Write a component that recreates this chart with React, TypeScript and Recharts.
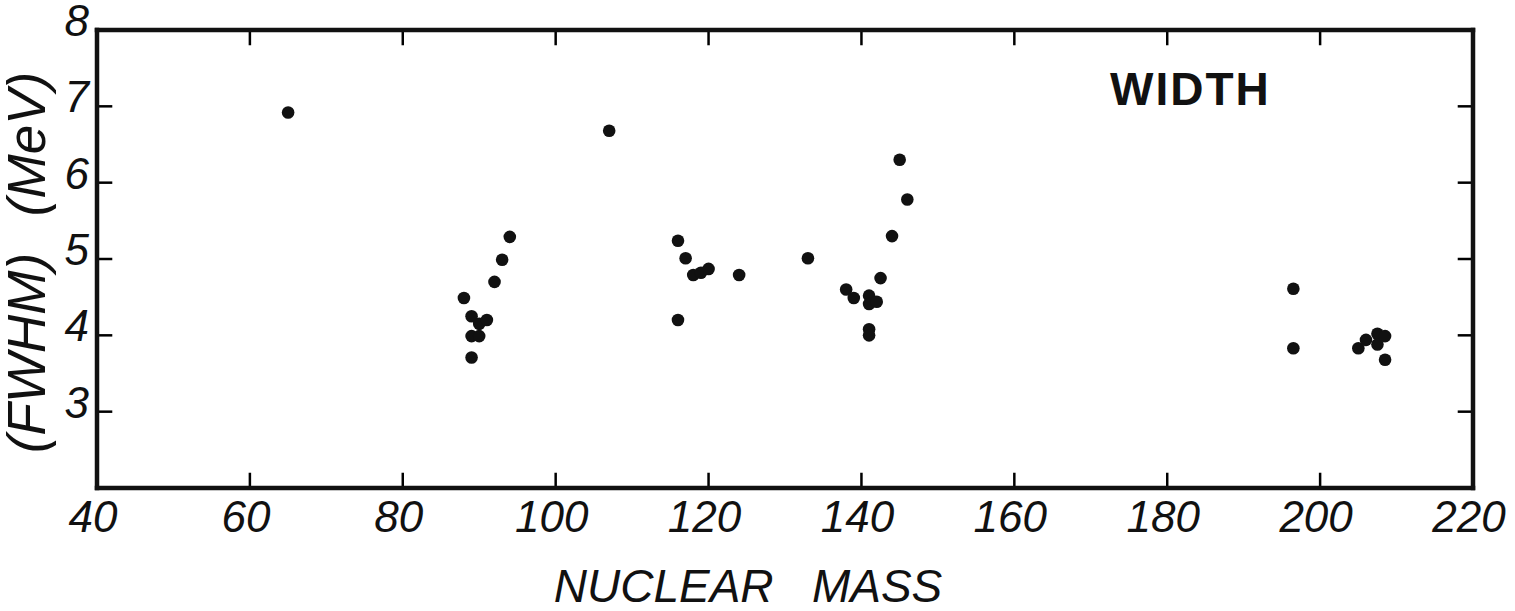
import { Label, ReferenceLine, Scatter, ScatterChart, XAxis, YAxis } from 'recharts';

// Nuclear mass (A) and resonance width FWHM in MeV.
const MASS = [
  65, 107,
  88, 89, 89, 89, 90, 90, 91, 92, 93, 94,
  116, 116, 117, 118, 119, 120, 124, 133,
  138, 139, 141, 141, 141, 141, 142, 142.5, 144, 145, 146,
  196.5, 196.5, 205, 206, 207.5, 207.5, 208.5, 208.5,
];
const WIDTH = [
  6.92, 6.68,
  4.49, 4.25, 3.99, 3.71, 4.15, 3.99, 4.2, 4.7, 4.99, 5.29,
  5.24, 4.2, 5.01, 4.79, 4.82, 4.87, 4.79, 5.01,
  4.6, 4.49, 4.52, 4.41, 4.08, 4.0, 4.44, 4.75, 5.3, 6.3, 5.78,
  4.61, 3.83, 3.83, 3.94, 4.02, 3.88, 3.99, 3.68,
];
const X_TICKS = [40, 60, 80, 100, 120, 140, 160, 180, 200, 220];
const Y_TICKS = [3, 4, 5, 6, 7, 8];
const X_DOMAIN: [number, number] = [40, 220];
const Y_DOMAIN: [number, number] = [2, 8];

const data = MASS.map((m, i) => ({ mass: m, width: WIDTH[i] }));

const INK = '#111';
const FONT = "'Liberation Sans', Arial, sans-serif";
const FRAME = 4.5;
// inward tick length in data units (~15px each way)
const TICK_DX = 2;
const TICK_DY = 0.2;

const frameLine = { stroke: INK, strokeWidth: FRAME, strokeLinecap: 'square' } as const;
const textStyle = { fontFamily: FONT, fontStyle: 'italic', fontWeight: 400 } as const;

function BottomLabel({ x, y, payload }: any) {
  return (
    <text x={x - 4} y={y + 44} textAnchor="middle" fontSize={44} fill={INK} style={textStyle}>
      {payload.value}
    </text>
  );
}

function LeftLabel({ x, y, payload }: any) {
  return (
    <text x={x - 8} y={y + 6} textAnchor="end" fontSize={44} fill={INK} style={textStyle}>
      {payload.value}
    </text>
  );
}

function YTitle({ viewBox }: any) {
  const bx = viewBox.x + 45;
  const top = viewBox.y;
  return (
    <g fill={INK} fontSize={53} style={textStyle}>
      <text x={bx} y={top + 114} textAnchor="middle" transform={`rotate(-90 ${bx} ${top + 114})`}>
        (MeV)
      </text>
      <text x={bx} y={top + 323} textAnchor="middle" transform={`rotate(-90 ${bx} ${top + 323})`}>
        (FWHM)
      </text>
    </g>
  );
}

function XTitle({ viewBox }: any) {
  const cx = viewBox.x + viewBox.width / 2 - 37;
  return (
    <text x={cx} y={viewBox.y + 114} textAnchor="middle" fontSize={46} fill={INK} style={{ ...textStyle, whiteSpace: 'pre' }}>
      {'NUCLEAR   MASS'}
    </text>
  );
}

const tickProps = { stroke: '#000', strokeWidth: 2.5, ifOverflow: 'visible' as const, xAxisId: 'b', yAxisId: 'l' };

export default function App() {
  const [x0, x1] = X_DOMAIN;
  const [y0, y1] = Y_DOMAIN;
  return (
    <div style={{ position: 'absolute', left: 0, top: 0, width: 1515, height: 611, background: '#fff' }}>
      <ScatterChart width={1515} height={611} margin={{ top: 29, right: 0, bottom: 0, left: 0 }}>
        <XAxis
          xAxisId="b"
          type="number"
          dataKey="mass"
          domain={X_DOMAIN}
          ticks={X_TICKS}
          height={123}
          tickSize={0}
          tickMargin={0}
          tickLine={false}
          axisLine={frameLine}
          tick={<BottomLabel />}
          interval={0}
        >
          <Label content={<XTitle />} />
        </XAxis>
        <XAxis
          xAxisId="t"
          orientation="top"
          type="number"
          dataKey="mass"
          domain={X_DOMAIN}
          ticks={X_TICKS}
          height={1}
          tickLine={false}
          axisLine={frameLine}
          tick={false}
        />
        <YAxis
          yAxisId="l"
          type="number"
          dataKey="width"
          domain={Y_DOMAIN}
          ticks={Y_TICKS}
          width={97}
          tickSize={0}
          tickMargin={0}
          tickLine={false}
          axisLine={frameLine}
          tick={<LeftLabel />}
          interval={0}
        >
          <Label content={<YTitle />} />
        </YAxis>
        <YAxis
          yAxisId="r"
          orientation="right"
          type="number"
          dataKey="width"
          domain={Y_DOMAIN}
          ticks={Y_TICKS}
          width={42}
          tickLine={false}
          axisLine={frameLine}
          tick={false}
        />
        {X_TICKS.slice(1, -1).map((t) => (
          <ReferenceLine key={`xb${t}`} {...tickProps} segment={[{ x: t, y: y0 }, { x: t, y: y0 + TICK_DY }]} />
        ))}
        {X_TICKS.slice(1, -1).map((t) => (
          <ReferenceLine key={`xt${t}`} {...tickProps} segment={[{ x: t, y: y1 }, { x: t, y: y1 - TICK_DY }]} />
        ))}
        {Y_TICKS.slice(0, -1).map((t) => (
          <ReferenceLine key={`yl${t}`} {...tickProps} segment={[{ x: x0, y: t }, { x: x0 + TICK_DX, y: t }]} />
        ))}
        {Y_TICKS.slice(0, -1).map((t) => (
          <ReferenceLine key={`yr${t}`} {...tickProps} segment={[{ x: x1, y: t }, { x: x1 - TICK_DX, y: t }]} />
        ))}
        <Scatter
          data={data}
          xAxisId="b"
          yAxisId="l"
          isAnimationActive={false}
          shape={(p: any) => <circle cx={p.cx} cy={p.cy} r={6.3} fill={INK} />}
        />
      </ScatterChart>
      <div
        style={{
          position: 'absolute',
          left: 1110,
          top: 66,
          fontFamily: "'Liberation Sans', Arial, sans-serif",
          fontWeight: 700,
          fontSize: 46,
          letterSpacing: 2,
          color: INK,
          lineHeight: 1,
        }}
      >
        WIDTH
      </div>
    </div>
  );
}
